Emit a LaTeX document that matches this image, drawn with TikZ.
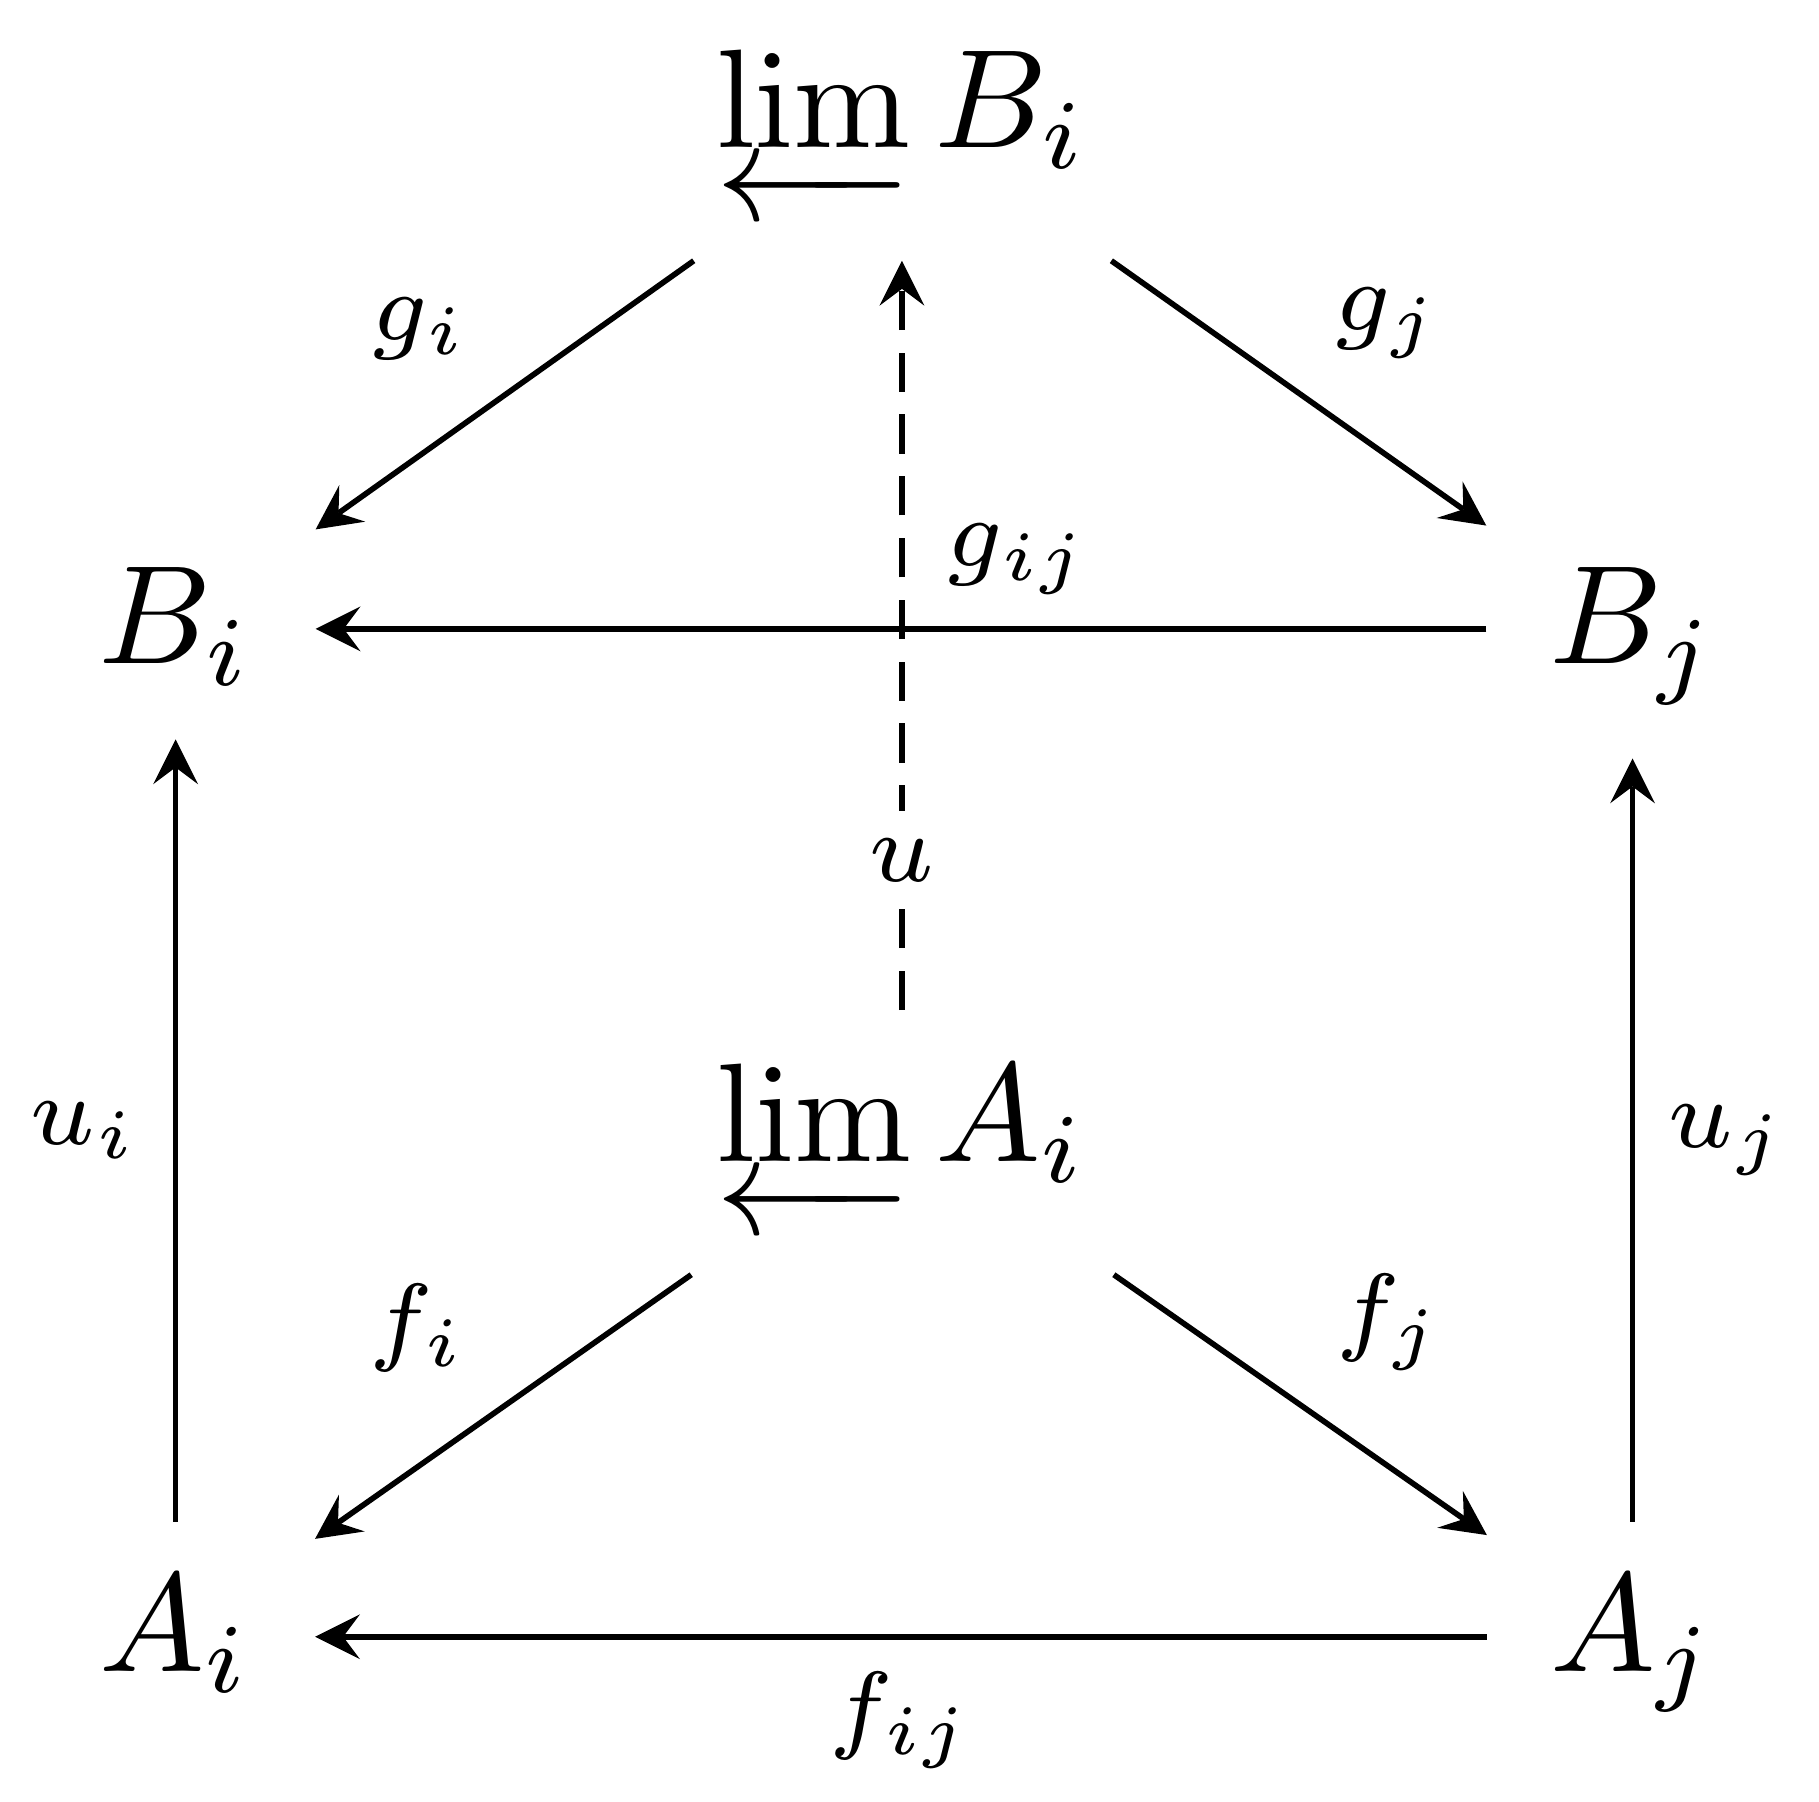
\documentclass[tikz,border=0pt]{standalone}
\usepackage{amsmath}
\usetikzlibrary{cd}

\begin{document}
\begin{tikzpicture}[
      x=1pt, y=-1pt,
      >=stealth,
      line width=0.4pt,
      obj/.style={shape=asymmetrical rectangle, inner xsep=1ex, inner ysep=0.85ex, anchor=base},
      map/.style={->},
      lbl/.style={auto, inner sep=2.3pt, execute at begin node=$\scriptstyle, execute at end node=$},
      desc/.style={fill=white, inner sep=2pt, execute at begin node=$\scriptstyle, execute at end node=$}
    ]
      \useasboundingbox (0,0) rectangle (129.47,128.26);

      \node[obj] (limB) at (64.2,10.53) {$\varprojlim B_i$};
      \node[obj] (Bi) at (12.5,47.26) {$B_i$};
      \node[obj] (Bj) at (116.2,47.26) {$B_j$};
      \node[obj] (limA) at (64.2,82.7) {$\varprojlim A_i$};
      \node[obj] (Ai) at (12.5,119.0) {$A_i$};
      \node[obj] (Aj) at (116.2,119.0) {$A_j$};

      \draw[map] (limB) -- node[lbl, swap] {g_i} (Bi);
      \draw[map] (limB) -- node[lbl] {g_j} (Bj);
      \draw[map] (Bj) -- node[lbl, swap, pos=0.4] {g_{ij}} (Bi);
      \draw[map] (limA) -- node[lbl, swap] {f_i} (Ai);
      \draw[map] (limA) -- node[lbl] {f_j} (Aj);
      \draw[map] (Aj) -- node[lbl] {f_{ij}} (Ai);
      \draw[map] (Ai) -- node[lbl] {u_i} (Bi);
      \draw[map] (Aj) -- node[lbl, swap] {u_j} (Bj);
      \draw[map, dash pattern=on 7\pgflinewidth off 4\pgflinewidth] (limA) -- node[desc, pos=0.2] {u} (limB);
    \end{tikzpicture}
\end{document}
